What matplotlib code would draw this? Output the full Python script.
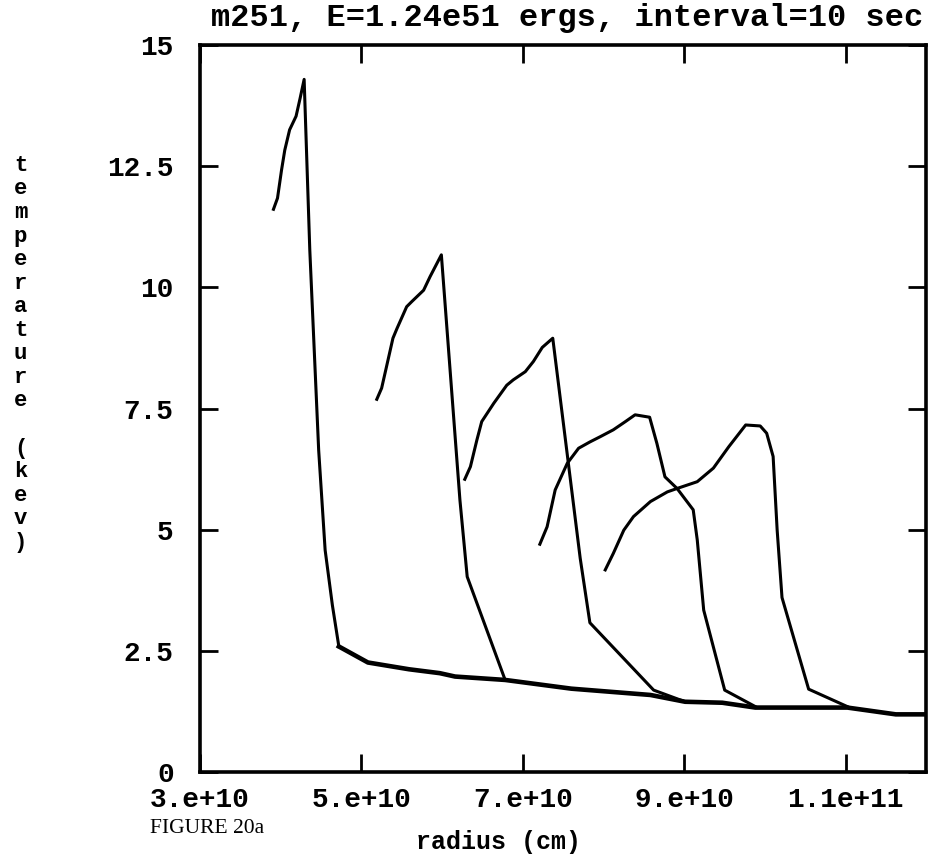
import numpy as np
import matplotlib
matplotlib.use('Agg')
import matplotlib.pyplot as plt

## radius in units of 1e10 cm, temperature in keV
## shock profiles, one every 10 sec
r1 = [3.91, 3.96, 4.01, 4.05, 4.11, 4.19, 4.24, 4.29, 4.36, 4.47, 4.55, 4.64, 4.72]
T1 = [11.61, 11.84, 12.42, 12.83, 13.25, 13.53, 13.90, 14.29, 10.77, 6.64, 4.58, 3.44, 2.59]

r2 = [5.19, 5.25, 5.31, 5.39, 5.44, 5.56, 5.62, 5.77, 5.85, 5.99, 6.22, 6.31, 6.78]
T2 = [7.69, 7.92, 8.36, 8.95, 9.15, 9.60, 9.70, 9.94, 10.22, 10.67, 5.61, 4.03, 1.90]

r3 = [6.28, 6.35, 6.43, 6.49, 6.64, 6.80, 6.88, 7.03, 7.13, 7.24, 7.37, 7.71, 7.83, 8.62, 9.01]
T3 = [6.04, 6.30, 6.85, 7.23, 7.61, 7.98, 8.09, 8.26, 8.47, 8.76, 8.95, 4.41, 3.08, 1.69, 1.45]

r4 = [7.21, 7.30, 7.40, 7.55, 7.69, 7.83, 7.96, 8.12, 8.27, 8.39, 8.57, 8.66, 8.76, 8.91, 9.11, 9.16, 9.24, 9.50, 9.88]
T4 = [4.70, 5.06, 5.82, 6.37, 6.68, 6.81, 6.92, 7.06, 7.23, 7.37, 7.32, 6.78, 6.09, 5.85, 5.41, 4.79, 3.34, 1.69, 1.35]

r5 = [8.02, 8.12, 8.25, 8.37, 8.58, 8.79, 8.91, 9.16, 9.36, 9.55, 9.76, 9.94, 10.02, 10.10, 10.15, 10.21, 10.54, 11.02]
T5 = [4.17, 4.51, 4.99, 5.27, 5.58, 5.78, 5.85, 5.99, 6.27, 6.71, 7.16, 7.14, 6.99, 6.51, 4.99, 3.60, 1.71, 1.35]

## unshocked material ahead of the shocks (all profiles sit on it)
amb_r = [4.72, 5.08, 5.59, 5.97, 6.16, 6.78, 7.60, 8.58, 9.01, 9.47, 9.88, 11.02, 11.62, 12.0]
amb_T = [2.59, 2.26, 2.12, 2.04, 1.97, 1.90, 1.72, 1.59, 1.45, 1.43, 1.33, 1.33, 1.19, 1.19]

xticks = [3, 5, 7, 9, 11]
xtick_labels = ['3.e+10', '5.e+10', '7.e+10', '9.e+10', '1.1e+11']
yticks = [0, 2.5, 5, 7.5, 10, 12.5, 15]
ytick_labels = ['0', '2.5', '5', '7.5', '10', '12.5', '15']

mono = 'Liberation Mono'

fig = plt.figure(figsize=(9.29, 8.63), dpi=100)
ax = fig.add_axes([0.2153, 0.1054, 0.782, 0.8425])

for r, T in [(r1, T1), (r2, T2), (r3, T3), (r4, T4), (r5, T5)]:
    ax.plot(np.array(r) * 1e10, T, color='black', lw=2.2, solid_joinstyle='round')
ax.plot(np.array(amb_r) * 1e10, amb_T, color='black', lw=3.3, solid_joinstyle='round')

ax.set_xlim(3e10, 1.2e11)
ax.set_ylim(0, 15)
ax.set_xticks(np.array(xticks) * 1e10)
ax.set_xticklabels(xtick_labels)
ax.set_yticks(yticks)
ax.set_yticklabels(ytick_labels)

for spine in ax.spines.values():
    spine.set_linewidth(2.6)
ax.tick_params(axis='both', direction='in', length=13, width=2.0,
               top=True, right=True, labelsize=20)
ax.tick_params(axis='x', pad=11)
ax.tick_params(axis='y', pad=19)
for lab in ax.get_xticklabels() + ax.get_yticklabels():
    lab.set_fontfamily(mono)
    lab.set_fontweight('bold')

fig.text(0.611, 0.979, 'm251, E=1.24e51 ergs, interval=10 sec',
         ha='center', va='center', fontsize=23, family=mono, weight='bold')
fig.text(0.537, 0.024, 'radius (cm)', ha='center', va='center',
         fontsize=18, family=mono, weight='bold')
fig.text(0.223, 0.040, 'FIGURE 20a', ha='center', va='center',
         fontsize=15.5, family='Liberation Serif')
fig.text(0.022, 0.59, '\n'.join('temperature (kev)'), ha='center', va='center',
         fontsize=16, family=mono, weight='bold', linespacing=1.16)

fig.savefig('out.png', dpi=100)
